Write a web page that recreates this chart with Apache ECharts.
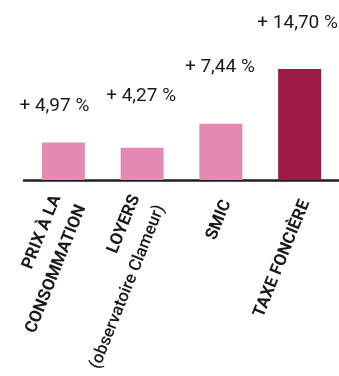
<!DOCTYPE html>
<html>
<head>
<meta charset="utf-8">
<script src="https://cdn.jsdelivr.net/npm/echarts@6/dist/echarts.min.js"></script>
<style>html,body{margin:0;padding:0;background:#fff;}#c{width:339px;height:376px;}</style>
</head>
<body>
<div id="c"></div>
<script>
const categories = ['PRIX À LA\nCONSOMMATION', 'LOYERS\n(observatoire Clameur)', 'SMIC', 'TAXE FONCIÈRE'];
const values = [4.97, 4.27, 7.44, 14.70];
const highlight = [false, false, false, true];

const labelDistance = [27, 42, 47, 36];
const labelShiftX = [-9, -1, -1, -2];

const FONT = 'Roboto, "Liberation Sans", sans-serif';
const chart = echarts.init(document.getElementById('c'), null, {renderer: 'canvas'});

chart.setOption({
  animation: false,
  backgroundColor: '#ffffff',
  grid: {left: 24, right: 0, top: 29, bottom: 196, containLabel: false, outerBoundsMode: 'none'},
  xAxis: {
    type: 'category',
    data: categories,
    axisLine: {show: true, lineStyle: {color: '#1e1e1e', width: 2.5}},
    axisTick: {show: false},
    axisLabel: {
      interval: 0,
      rotate: 68,
      margin: 13,
      padding: [17, 5, 0, 0],
      formatter: function (v) {
        const lines = v.split('\n');
        return lines.map(function (l) {
          return (l.charAt(0) === '(' ? '{n|' : '{b|') + l + '}';
        }).join('\n');
      },
      rich: {
        b: {fontFamily: FONT, fontWeight: 'bold', fontSize: 17, color: '#1a1a1a', lineHeight: 27},
        n: {fontFamily: FONT, fontWeight: 500, fontSize: 17, color: '#1a1a1a', lineHeight: 27}
      }
    }
  },
  yAxis: {
    type: 'value', min: 0, max: 20,
    show: false,
    splitLine: {show: false}
  },
  series: [{
    type: 'bar',
    barWidth: 43,
    data: values.map(function (v, i) {
      return {
        value: v,
        itemStyle: {color: highlight[i] ? '#9e1b48' : '#e38ab2'},
        label: {distance: labelDistance[i], offset: [labelShiftX[i], 0]}
      };
    }),
    label: {
      show: true,
      position: 'top',
      fontFamily: FONT,
      fontSize: 19,
      color: '#1a1a1a',
      formatter: function (p) {
        return '+ ' + p.value.toFixed(2).replace('.', ',') + ' %';
      }
    },
    z: 1
  }]
});
</script>
</body>
</html>
